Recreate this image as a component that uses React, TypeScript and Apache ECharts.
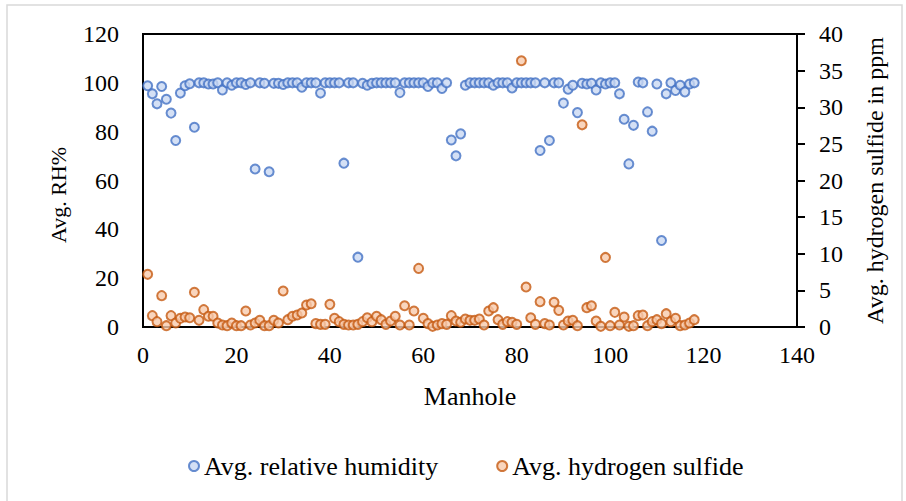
import React, { useEffect, useRef } from "react";
import * as echarts from "echarts";

const manholes: number[] = Array.from({ length: 118 }, (_, i) => i + 1);

const humidity: number[] = [
  98.8, 95.5, 91.4, 98.5, 93.3, 87.6, 76.4, 95.8, 98.8, 99.6,
  81.8, 100, 100, 99.5, 99.5, 100, 97.1, 100, 99.0, 100,
  100, 99.3, 100, 64.7, 100, 99.8, 63.6, 99.8, 99.8, 99.3,
  100, 100, 100, 98.2, 100, 100, 100, 95.8, 100, 100,
  100, 100, 67.1, 100, 100, 28.6, 99.8, 99.0, 99.8, 100,
  100, 100, 100, 100, 96.0, 100, 100, 100, 100, 100,
  98.5, 100, 100, 97.7, 100, 76.6, 70.1, 79.1, 99.0, 100,
  100, 100, 100, 100, 99.0, 100, 100, 100, 97.9, 100,
  100, 100, 100, 100, 72.3, 100, 76.4, 100, 100, 91.7,
  97.4, 99.0, 87.8, 99.8, 99.5, 99.8, 97.1, 100, 99.5, 100,
  100, 95.5, 85.1, 66.8, 82.6, 100.3, 100, 88.1, 80.2, 99.5,
  35.4, 95.5, 100, 96.9, 99.0, 96.3, 99.5, 100,
];

const h2s: number[] = [
  7.19, 1.55, 0.73, 4.28, 0.18, 1.55, 0.55, 1.18, 1.37, 1.27,
  4.73, 0.91, 2.37, 1.46, 1.46, 0.55, 0.27, 0.18, 0.55, 0.18,
  0.18, 2.18, 0.27, 0.55, 0.91, 0.18, 0.18, 0.91, 0.55, 4.91,
  1.0, 1.46, 1.64, 1.91, 3.0, 3.18, 0.46, 0.36, 0.36, 3.09,
  1.18, 0.73, 0.36, 0.27, 0.27, 0.36, 0.73, 1.27, 0.73, 1.46,
  1.0, 0.36, 0.82, 1.46, 0.27, 2.91, 0.27, 2.18, 8.0, 1.18,
  0.46, 0.09, 0.27, 0.46, 0.36, 1.55, 0.82, 0.64, 1.09, 0.91,
  0.91, 1.09, 0.27, 2.18, 2.64, 1.0, 0.36, 0.73, 0.64, 0.36,
  36.35, 5.46, 1.27, 0.36, 3.46, 0.46, 0.27, 3.37, 2.27, 0.27,
  0.82, 0.91, 0.18, 27.6, 2.64, 2.91, 0.82, 0.09, 9.5, 0.18,
  2.0, 0.27, 1.37, 0.09, 0.18, 1.55, 1.64, 0.18, 0.73, 1.0,
  0.46, 1.82, 0.73, 1.18, 0.18, 0.27, 0.55, 1.0,
];

const seriesNames: string[] = ["Avg. relative humidity", "Avg. hydrogen sulfide"];
const axisTitles = { x: "Manhole", left: "Avg. RH%", right: "Avg. hydrogen sulfide in ppm" };

const FONT = '"Liberation Serif", "Times New Roman", serif';
const FS = 24;
const FS_BIG = 26;

export default function App() {
  const ref = useRef<HTMLDivElement>(null);
  useEffect(() => {
    if (!ref.current) return;
    const chart = echarts.init(ref.current, null, { renderer: "svg" });
    const labelStyle = { color: "#000", fontFamily: FONT, fontSize: FS };
    const bigStyle = { color: "#000", fontFamily: FONT, fontSize: FS_BIG };
    chart.setOption({
      animation: false,
      backgroundColor: "#fff",
      graphic: [
        {
          type: "rect",
          shape: { x: 7, y: 5, width: 895, height: 520 },
          style: { fill: "none", stroke: "#d9d9d9", lineWidth: 1.5 },
          silent: true,
        },
        {
          type: "text",
          x: 58,
          y: 195,
          rotation: Math.PI / 2,
          silent: true,
          style: {
            text: axisTitles.left,
            fill: "#000",
            font: `22px ${FONT}`,
            align: "center",
            verticalAlign: "middle",
          },
        },
      ],
      grid: {
        left: 143,
        top: 34,
        right: 109,
        bottom: 174,
        show: true,
        borderColor: "#000",
        borderWidth: 2,
        backgroundColor: "transparent",
      },
      legend: {
        left: 183,
        top: 448,
        icon: "circle",
        itemWidth: 10,
        itemHeight: 10,
        itemGap: 58,
        textStyle: { ...bigStyle },
        data: seriesNames,
      },
      xAxis: {
        type: "value",
        min: 0,
        max: 140,
        interval: 20,
        name: axisTitles.x,
        nameLocation: "middle",
        nameGap: 56,
        nameTextStyle: { ...bigStyle },
        axisLine: { show: true, lineStyle: { color: "#000", width: 2 } },
        axisTick: { show: false },
        splitLine: { show: false },
        axisLabel: { ...labelStyle, margin: 16 },
      },
      yAxis: [
        {
          type: "value",
          min: 0,
          max: 120,
          interval: 20,
          axisLine: { show: true, lineStyle: { color: "#000", width: 2 } },
          axisTick: { show: false },
          splitLine: { show: false },
          axisLabel: { ...labelStyle, margin: 24 },
        },
        {
          type: "value",
          min: 0,
          max: 40,
          interval: 5,
          position: "right",
          name: axisTitles.right,
          nameLocation: "middle",
          nameRotate: 90,
          nameGap: 66,
          nameTextStyle: { ...labelStyle },
          axisLine: { show: true, lineStyle: { color: "#000", width: 2 } },
          axisTick: { show: true, inside: false, length: 8, lineStyle: { color: "#000", width: 2 } },
          splitLine: { show: false },
          axisLabel: { ...labelStyle, margin: 22 },
        },
      ],
      series: [
        {
          name: seriesNames[0],
          type: "scatter",
          yAxisIndex: 0,
          symbol: "circle",
          symbolSize: 9,
          itemStyle: { color: "#c9d8f2", borderColor: "#4472c4", borderWidth: 2 },
          data: manholes.map((m, i) => [m, humidity[i]]),
          z: 2,
        },
        {
          name: seriesNames[1],
          type: "scatter",
          yAxisIndex: 1,
          symbol: "circle",
          symbolSize: 9,
          itemStyle: { color: "#f8cbad", borderColor: "#c55a11", borderWidth: 2 },
          data: manholes.map((m, i) => [m, h2s[i]]),
          z: 3,
        },
      ],
    });
    return () => chart.dispose();
  }, []);
  return (
    <div
      ref={ref}
      style={{ position: "fixed", left: 0, top: 0, width: 906, height: 501 }}
    />
  );
}
